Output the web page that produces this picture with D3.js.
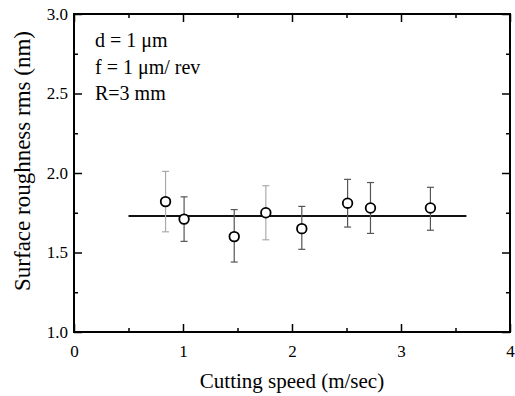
<!DOCTYPE html>
<html>
<head>
<meta charset="utf-8">
<script src="https://cdn.jsdelivr.net/npm/d3@7"></script>
<style>
  body { margin: 0; background: #fff; }
  svg { display: block; }
</style>
</head>
<body>
<div id="chart"></div>
<script>
let width = 515;
let height = 396;
let margin = {top: 14, right: 5, bottom: 64, left: 74};
let serif = "'Liberation Serif', 'Times New Roman', serif";

// measured points
let speed = [0.84, 1.01, 1.47, 1.76, 2.09, 2.51, 2.72, 3.27];
let rms = [1.82, 1.71, 1.60, 1.75, 1.65, 1.81, 1.78, 1.78];
let errLow = [1.63, 1.57, 1.44, 1.58, 1.52, 1.66, 1.62, 1.64];
let errHigh = [2.01, 1.85, 1.77, 1.92, 1.79, 1.96, 1.94, 1.91];
let errColor = ["#aaa", "#555", "#555", "#aaa", "#555", "#555", "#555", "#555"];

// mean line
let meanX = [0.5, 3.6];
let meanY = 1.73;

let xTicks = [0, 1, 2, 3, 4];
let yTicks = [1.0, 1.5, 2.0, 2.5, 3.0];
let notes = ["d = 1 \u03bcm", "f = 1 \u03bcm/ rev", "R=3 mm"];

let x = d3.scaleLinear().domain([0, 4]).range([margin.left, width - margin.right]);
let y = d3.scaleLinear().domain([1, 3]).range([height - margin.bottom, margin.top]);

let svg = d3.select("#chart").append("svg")
    .attr("width", width)
    .attr("height", height)
    .attr("font-family", serif);

function minorTicks(scale, step) {
    let d = scale.domain();
    return d3.range(d[0] + step, d[1], step * 2);
}

let xMinor = minorTicks(x, 0.5);
let yMinor = minorTicks(y, 0.25);

function addAxis(axis, tr, values, size, fmt, pad) {
    let g = svg.append("g")
        .attr("transform", tr)
        .call(axis.tickValues(values).tickSize(size).tickPadding(pad || 3).tickFormat(fmt || ""));
    g.attr("font-family", serif).attr("font-size", 17);
    g.selectAll(".tick text")
        .attr("font-family", serif)
        .attr("font-size", 17)
        .attr("fill", "#000");
    return g;
}

// bottom + top
addAxis(d3.axisBottom(x), `translate(0,${y(1)})`, xTicks, -8, d3.format("d"), 13);
addAxis(d3.axisBottom(x), `translate(0,${y(1)})`, xMinor, -4);
addAxis(d3.axisTop(x), `translate(0,${y(3)})`, xTicks, -8);
addAxis(d3.axisTop(x), `translate(0,${y(3)})`, xMinor, -4);

// left + right
addAxis(d3.axisLeft(y), `translate(${x(0)},0)`, yTicks, -8, d3.format(".1f"), 6);
addAxis(d3.axisLeft(y), `translate(${x(0)},0)`, yMinor, -4);
addAxis(d3.axisRight(y), `translate(${x(4)},0)`, yTicks, -8);
addAxis(d3.axisRight(y), `translate(${x(4)},0)`, yMinor, -4);

svg.selectAll(".domain").remove();
svg.selectAll(".tick line").attr("stroke", "#000").attr("stroke-width", 1.5);

// frame
svg.append("rect")
    .attr("x", x(0)).attr("y", y(3))
    .attr("width", x(4) - x(0)).attr("height", y(1) - y(3))
    .attr("fill", "none").attr("stroke", "#000").attr("stroke-width", 2);

// axis titles
svg.append("text")
    .attr("x", (x(0) + x(4)) / 2)
    .attr("y", 388)
    .attr("text-anchor", "middle")
    .attr("font-size", 21)
    .text("Cutting speed (m/sec)");

svg.append("text")
    .attr("transform", "translate(30,161) rotate(-90)")
    .attr("text-anchor", "middle")
    .attr("font-size", 23)
    .text("Surface roughness rms (nm)");

// notes
svg.append("g").selectAll("text")
    .data(notes)
    .join("text")
    .attr("x", 95)
    .attr("y", (d, i) => 47 + i * 26.5)
    .attr("font-size", 20)
    .text(d => d);

// mean line
svg.append("line")
    .attr("x1", x(meanX[0])).attr("x2", x(meanX[1]))
    .attr("y1", y(meanY)).attr("y2", y(meanY))
    .attr("stroke", "#111").attr("stroke-width", 2);

// error bars
let idx = d3.range(speed.length);
let err = svg.append("g").selectAll("g")
    .data(idx)
    .join("g")
    .attr("stroke", i => errColor[i])
    .attr("stroke-width", 1.2);
err.append("line")
    .attr("x1", i => x(speed[i])).attr("x2", i => x(speed[i]))
    .attr("y1", i => y(errLow[i])).attr("y2", i => y(errHigh[i]));
err.append("line")
    .attr("x1", i => x(speed[i]) - 3.5).attr("x2", i => x(speed[i]) + 3.5)
    .attr("y1", i => y(errLow[i])).attr("y2", i => y(errLow[i]));
err.append("line")
    .attr("x1", i => x(speed[i]) - 3.5).attr("x2", i => x(speed[i]) + 3.5)
    .attr("y1", i => y(errHigh[i])).attr("y2", i => y(errHigh[i]));

// points
svg.append("g").selectAll("circle")
    .data(idx)
    .join("circle")
    .attr("cx", i => x(speed[i]))
    .attr("cy", i => y(rms[i]))
    .attr("r", 4.8)
    .attr("fill", "#fff")
    .attr("stroke", "#000")
    .attr("stroke-width", 1.8);
</script>
</body>
</html>
